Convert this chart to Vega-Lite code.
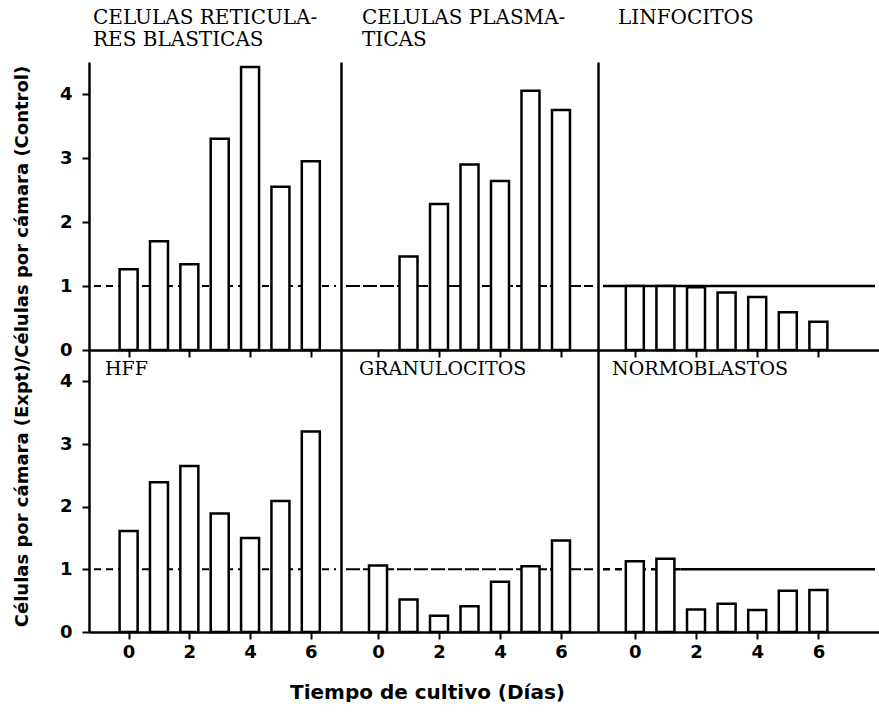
{
  "$schema": "https://vega.github.io/schema/vega-lite/v6.json",
  "padding": {"left": 13, "top": 8, "right": 0, "bottom": 0},
  "background": "white",
  "datasets": {
    "bars": [
      {"panel": "rb", "day": 0, "value": 1.26},
      {"panel": "rb", "day": 1, "value": 1.7},
      {"panel": "rb", "day": 2, "value": 1.34},
      {"panel": "rb", "day": 3, "value": 3.3},
      {"panel": "rb", "day": 4, "value": 4.42},
      {"panel": "rb", "day": 5, "value": 2.55},
      {"panel": "rb", "day": 6, "value": 2.95},
      {"panel": "pl", "day": 1, "value": 1.46},
      {"panel": "pl", "day": 2, "value": 2.28},
      {"panel": "pl", "day": 3, "value": 2.9},
      {"panel": "pl", "day": 4, "value": 2.64},
      {"panel": "pl", "day": 5, "value": 4.05},
      {"panel": "pl", "day": 6, "value": 3.75},
      {"panel": "li", "day": 0, "value": 1.0},
      {"panel": "li", "day": 1, "value": 1.0},
      {"panel": "li", "day": 2, "value": 0.98},
      {"panel": "li", "day": 3, "value": 0.9},
      {"panel": "li", "day": 4, "value": 0.83},
      {"panel": "li", "day": 5, "value": 0.59},
      {"panel": "li", "day": 6, "value": 0.44},
      {"panel": "hff", "day": 0, "value": 1.61},
      {"panel": "hff", "day": 1, "value": 2.39},
      {"panel": "hff", "day": 2, "value": 2.65},
      {"panel": "hff", "day": 3, "value": 1.89},
      {"panel": "hff", "day": 4, "value": 1.5},
      {"panel": "hff", "day": 5, "value": 2.09},
      {"panel": "hff", "day": 6, "value": 3.2},
      {"panel": "gr", "day": 0, "value": 1.06},
      {"panel": "gr", "day": 1, "value": 0.52},
      {"panel": "gr", "day": 2, "value": 0.26},
      {"panel": "gr", "day": 3, "value": 0.41},
      {"panel": "gr", "day": 4, "value": 0.8},
      {"panel": "gr", "day": 5, "value": 1.05},
      {"panel": "gr", "day": 6, "value": 1.46},
      {"panel": "no", "day": 0, "value": 1.13},
      {"panel": "no", "day": 1, "value": 1.17},
      {"panel": "no", "day": 2, "value": 0.36},
      {"panel": "no", "day": 3, "value": 0.45},
      {"panel": "no", "day": 4, "value": 0.35},
      {"panel": "no", "day": 5, "value": 0.66},
      {"panel": "no", "day": 6, "value": 0.67}
    ],
    "refs": [
      {"panel": "rb", "from": -1.14, "to": 6.83, "level": 1, "style": "dash"},
      {"panel": "pl", "from": -1.05, "to": 7.05, "level": 1, "style": "long"},
      {"panel": "li", "from": -1.04, "to": 7.85, "level": 1, "style": "solid"},
      {"panel": "hff", "from": -1.14, "to": 6.83, "level": 1, "style": "dash"},
      {"panel": "gr", "from": -1.05, "to": 7.05, "level": 1, "style": "long"},
      {"panel": "no", "from": -1.04, "to": 1.5, "level": 1, "style": "dash"},
      {"panel": "no", "from": 1.5, "to": 7.85, "level": 1, "style": "solid"}
    ]
  },
  "columns": 3,
  "spacing": 0,
  "bounds": "flush",
  "align": "each",
  "concat": [
    {
      "width": 252, "height": 288,
      "title": {"text": ["CELULAS RETICULA-", "RES BLASTICAS"], "anchor": "start", "frame": "group", "dx": 4, "offset": 12, "font": "DejaVu Serif", "fontSize": 20, "fontWeight": "normal", "lineHeight": 22, "color": "black"},
      "layer": [
        {
          "data": {"name": "refs"},
          "transform": [{"filter": "datum.panel === 'rb'"}],
          "mark": {"type": "rule", "strokeWidth": 2, "color": "black"},
          "encoding": {
            "x": {"field": "from", "type": "quantitative", "scale": {"domain": [-1.14, 6.83], "nice": false, "zero": false}, "axis": {"title": null, "values": [0, 2, 4, 6], "labels": false, "tickSize": 7}},
            "x2": {"field": "to"},
            "y": {"field": "level", "type": "quantitative", "scale": {"domain": [0, 4.5], "nice": false}, "axis": {"values": [0, 1, 2, 3, 4], "format": "d", "tickSize": 7, "labelPadding": 10, "title": "Células por cámara (Expt)/Células por cámara (Control)", "titleFontSize": 18, "titleX": -67, "titleY": 284, "titleAngle": -90, "titleAlign": "center", "titleBaseline": "middle"}},
            "strokeDash": {"field": "style", "type": "nominal", "scale": {"domain": ["dash", "long", "solid"], "range": [[7, 5], [14, 3], [1, 0]]}, "legend": null}
          }
        },
        {
          "data": {"name": "bars"},
          "transform": [{"filter": "datum.panel === 'rb'"}],
          "mark": {"type": "bar", "width": 18, "fill": "white", "stroke": "black", "strokeWidth": 2.5},
          "encoding": {
            "x": {"field": "day", "type": "quantitative", "axis": {"title": null}},
            "y": {"field": "value", "type": "quantitative", "axis": {"title": "Células por cámara (Expt)/Células por cámara (Control)"}}
          }
        }
      ]
    },
    {
      "width": 257, "height": 288,
      "title": {"text": ["CELULAS PLASMA-", "TICAS"], "anchor": "start", "frame": "group", "dx": 21, "offset": 12, "font": "DejaVu Serif", "fontSize": 20, "fontWeight": "normal", "lineHeight": 22, "color": "black"},
      "layer": [
        {
          "data": {"name": "refs"},
          "transform": [{"filter": "datum.panel === 'pl'"}],
          "mark": {"type": "rule", "strokeWidth": 2, "color": "black"},
          "encoding": {
            "x": {"field": "from", "type": "quantitative", "scale": {"domain": [-1.05, 7.05], "nice": false, "zero": false}, "axis": {"title": null, "values": [0, 2, 4, 6], "labels": false, "tickSize": 7}},
            "x2": {"field": "to"},
            "y": {"field": "level", "type": "quantitative", "scale": {"domain": [0, 4.5], "nice": false}, "axis": {"title": null, "labels": false, "ticks": false}},
            "strokeDash": {"field": "style", "type": "nominal", "scale": {"domain": ["dash", "long", "solid"], "range": [[7, 5], [14, 3], [1, 0]]}, "legend": null}
          }
        },
        {
          "data": {"name": "bars"},
          "transform": [{"filter": "datum.panel === 'pl'"}],
          "mark": {"type": "bar", "width": 18, "fill": "white", "stroke": "black", "strokeWidth": 2.5},
          "encoding": {
            "x": {"field": "day", "type": "quantitative", "axis": {"title": null}},
            "y": {"field": "value", "type": "quantitative", "axis": {"title": null}}
          }
        }
      ]
    },
    {
      "width": 282, "height": 288,
      "title": {"text": "LINFOCITOS", "anchor": "start", "frame": "group", "dx": 20, "offset": 34, "font": "DejaVu Serif", "fontSize": 20, "fontWeight": "normal", "color": "black"},
      "layer": [
        {
          "data": {"name": "refs"},
          "transform": [{"filter": "datum.panel === 'li'"}],
          "mark": {"type": "rule", "strokeWidth": 2.5, "color": "black"},
          "encoding": {
            "x": {"field": "from", "type": "quantitative", "scale": {"domain": [-1.04, 7.85], "nice": false, "zero": false}, "axis": {"title": null, "values": [0, 2, 4, 6], "labels": false, "tickSize": 7}},
            "x2": {"field": "to"},
            "y": {"field": "level", "type": "quantitative", "scale": {"domain": [0, 4.5], "nice": false}, "axis": {"title": null, "labels": false, "ticks": false}},
            "strokeDash": {"field": "style", "type": "nominal", "scale": {"domain": ["dash", "long", "solid"], "range": [[7, 5], [14, 3], [1, 0]]}, "legend": null}
          }
        },
        {
          "data": {"name": "bars"},
          "transform": [{"filter": "datum.panel === 'li'"}],
          "mark": {"type": "bar", "width": 18, "fill": "white", "stroke": "black", "strokeWidth": 2.5},
          "encoding": {
            "x": {"field": "day", "type": "quantitative", "axis": {"title": null}},
            "y": {"field": "value", "type": "quantitative", "axis": {"title": null}}
          }
        }
      ]
    },
    {
      "width": 252, "height": 282,
      "title": {"text": "HFF", "anchor": "start", "frame": "group", "dx": 16, "offset": -38, "baseline": "middle", "font": "DejaVu Serif", "fontSize": 19, "fontWeight": "normal", "color": "black"},
      "layer": [
        {
          "data": {"name": "refs"},
          "transform": [{"filter": "datum.panel === 'hff'"}],
          "mark": {"type": "rule", "strokeWidth": 2, "color": "black"},
          "encoding": {
            "x": {"field": "from", "type": "quantitative", "scale": {"domain": [-1.14, 6.83], "nice": false, "zero": false}, "axis": {"title": null, "values": [0, 2, 4, 6], "tickSize": 7}},
            "x2": {"field": "to"},
            "y": {"field": "level", "type": "quantitative", "scale": {"domain": [0, 4.5], "nice": false}, "axis": {"title": null, "values": [0, 1, 2, 3, 4], "format": "d", "tickSize": 7, "labelPadding": 10}},
            "strokeDash": {"field": "style", "type": "nominal", "scale": {"domain": ["dash", "long", "solid"], "range": [[7, 5], [14, 3], [1, 0]]}, "legend": null}
          }
        },
        {
          "data": {"name": "bars"},
          "transform": [{"filter": "datum.panel === 'hff'"}],
          "mark": {"type": "bar", "width": 18, "fill": "white", "stroke": "black", "strokeWidth": 2.5},
          "encoding": {
            "x": {"field": "day", "type": "quantitative", "axis": {"title": null}},
            "y": {"field": "value", "type": "quantitative", "axis": {"title": null}}
          }
        }
      ]
    },
    {
      "width": 257, "height": 282,
      "title": {"text": "GRANULOCITOS", "anchor": "start", "frame": "group", "dx": 18, "offset": -38, "baseline": "middle", "font": "DejaVu Serif", "fontSize": 19, "fontWeight": "normal", "color": "black"},
      "layer": [
        {
          "data": {"name": "refs"},
          "transform": [{"filter": "datum.panel === 'gr'"}],
          "mark": {"type": "rule", "strokeWidth": 2, "color": "black"},
          "encoding": {
            "x": {"field": "from", "type": "quantitative", "scale": {"domain": [-1.05, 7.05], "nice": false, "zero": false}, "axis": {"title": "Tiempo de cultivo (Días)", "values": [0, 2, 4, 6], "tickSize": 7, "titleFontSize": 20, "titleX": 86, "titleY": 60, "titleAlign": "center", "titleBaseline": "middle"}},
            "x2": {"field": "to"},
            "y": {"field": "level", "type": "quantitative", "scale": {"domain": [0, 4.5], "nice": false}, "axis": {"title": null, "labels": false, "ticks": false}},
            "strokeDash": {"field": "style", "type": "nominal", "scale": {"domain": ["dash", "long", "solid"], "range": [[7, 5], [14, 3], [1, 0]]}, "legend": null}
          }
        },
        {
          "data": {"name": "bars"},
          "transform": [{"filter": "datum.panel === 'gr'"}],
          "mark": {"type": "bar", "width": 18, "fill": "white", "stroke": "black", "strokeWidth": 2.5},
          "encoding": {
            "x": {"field": "day", "type": "quantitative", "axis": {"title": "Tiempo de cultivo (Días)"}},
            "y": {"field": "value", "type": "quantitative", "axis": {"title": null}}
          }
        }
      ]
    },
    {
      "width": 282, "height": 282,
      "title": {"text": "NORMOBLASTOS", "anchor": "start", "frame": "group", "dx": 14, "offset": -38, "baseline": "middle", "font": "DejaVu Serif", "fontSize": 19, "fontWeight": "normal", "color": "black"},
      "layer": [
        {
          "data": {"name": "refs"},
          "transform": [{"filter": "datum.panel === 'no'"}],
          "mark": {"type": "rule", "strokeWidth": 2.5, "color": "black"},
          "encoding": {
            "x": {"field": "from", "type": "quantitative", "scale": {"domain": [-1.04, 7.85], "nice": false, "zero": false}, "axis": {"title": null, "values": [0, 2, 4, 6], "tickSize": 7}},
            "x2": {"field": "to"},
            "y": {"field": "level", "type": "quantitative", "scale": {"domain": [0, 4.5], "nice": false}, "axis": {"title": null, "labels": false, "ticks": false}},
            "strokeDash": {"field": "style", "type": "nominal", "scale": {"domain": ["dash", "long", "solid"], "range": [[7, 5], [14, 3], [1, 0]]}, "legend": null}
          }
        },
        {
          "data": {"name": "bars"},
          "transform": [{"filter": "datum.panel === 'no'"}],
          "mark": {"type": "bar", "width": 18, "fill": "white", "stroke": "black", "strokeWidth": 2.5},
          "encoding": {
            "x": {"field": "day", "type": "quantitative", "axis": {"title": null}},
            "y": {"field": "value", "type": "quantitative", "axis": {"title": null}}
          }
        }
      ]
    }
  ],
  "config": {
    "view": {"stroke": null},
    "axis": {
      "grid": false,
      "domainColor": "black",
      "domainWidth": 2.5,
      "tickColor": "black",
      "tickWidth": 2,
      "labelColor": "black",
      "labelFont": "DejaVu Sans",
      "labelFontSize": 18,
      "labelFontWeight": "bold",
      "labelPadding": 4,
      "titleColor": "black",
      "titleFont": "DejaVu Sans",
      "titleFontSize": 18,
      "titleFontWeight": "bold"
    },
    "axisX": {"labelAngle": 0, "labelFlush": false}
  }
}
